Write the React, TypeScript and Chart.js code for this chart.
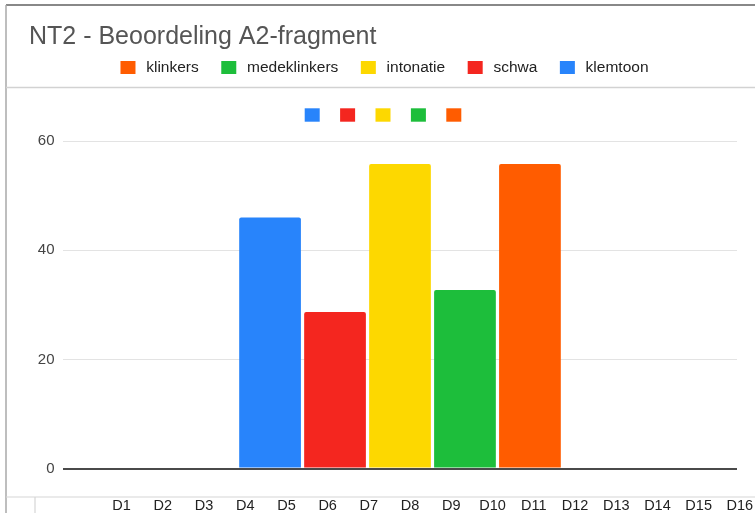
import { useEffect, useRef } from 'react';
import { Chart, registerables } from 'chart.js';

Chart.register(...registerables);

const FONT = "'Liberation Sans', Arial, Helvetica, sans-serif";

const chartTitle = 'NT2 - Beoordeling A2-fragment';
const categories = ['A2-fragment'];
const seriesNames = ['klemtoon', 'schwa', 'intonatie', 'medeklinkers', 'klinkers'];
const seriesValues = [46, 28.7, 55.8, 32.7, 55.8];
const seriesColors = ['#2884fb', '#f4261f', '#fdd800', '#1dbe3b', '#ff5c00'];
const legendOrder = ['klinkers', 'medeklinkers', 'intonatie', 'schwa', 'klemtoon'];
const dLabels = ['D1', 'D2', 'D3', 'D4', 'D5', 'D6', 'D7', 'D8', 'D9', 'D10', 'D11', 'D12', 'D13', 'D14', 'D15', 'D16'];
const yMin = 0;
const yMax = 60;
const yStep = 20;

const framePlugin = {
  id: 'frameDecor',
  afterDraw(chart: any) {
    const ctx = chart.ctx as CanvasRenderingContext2D;
    const w = chart.width;
    const h = chart.height;
    const line = (x1: number, y1: number, x2: number, y2: number, color: string, lw: number) => {
      ctx.beginPath();
      ctx.strokeStyle = color;
      ctx.lineWidth = lw;
      ctx.moveTo(x1, y1);
      ctx.lineTo(x2, y2);
      ctx.stroke();
    };
    ctx.save();
    line(6, 5, w, 5, '#606060', 1.5);
    line(6, 5, 6, h, '#a8a8a8', 1.5);
    line(6, 87.5, w, 87.5, '#d2d2d2', 1.5);
    line(6, 497, w, 497, '#d6d6d6', 1.2);
    line(35, 497, 35, h, '#d6d6d6', 1.2);

    // second (unlabelled) legend row of colour squares, in dataset order
    const ds = chart.data.datasets;
    const sq = 15;
    const sqH = 13.4;
    const gap = 20.4;
    const total = ds.length * sq + (ds.length - 1) * gap;
    const cx = (chart.legend.left + chart.legend.right) / 2;
    let x = cx - total / 2;
    const yc = chart.chartArea.top - 26;
    ds.forEach((d: any) => {
      ctx.fillStyle = d.backgroundColor;
      ctx.fillRect(x, yc - sqH / 2, sq, sqH);
      x += sq + gap;
    });
    ctx.restore();
  },
};

export default function App() {
  const ref = useRef<HTMLCanvasElement | null>(null);

  useEffect(() => {
    if (!ref.current) return;
    Chart.defaults.font.family = FONT;
    const chart = new Chart(ref.current, {
      type: 'bar',
      data: {
        labels: categories,
        datasets: seriesNames.map((name, i) => ({
          label: name,
          data: [seriesValues[i]],
          backgroundColor: seriesColors[i],
          borderWidth: 0,
          borderRadius: 2,
          categoryPercentage: 0.482,
          barPercentage: 0.95,
        })),
      },
      options: {
        responsive: false,
        animation: false,
        devicePixelRatio: 1,
        events: [],
        layout: { padding: { left: 29, right: 18, top: 0, bottom: 0 } },
        plugins: {
          tooltip: { enabled: false },
          title: {
            display: true,
            text: chartTitle,
            align: 'start',
            color: '#555555',
            font: { family: FONT, size: 25, weight: 'normal', lineHeight: 1.2 },
            padding: { top: 22, bottom: -13.5 },
          },
          subtitle: {
            display: true,
            text: '',
            weight: 500,
            font: { size: 10, lineHeight: 1 },
            padding: { top: 22, bottom: 22 },
          } as any,
          legend: {
            display: true,
            position: 'top',
            align: 'center',
            labels: {
              boxWidth: 21,
              boxHeight: 19,
              padding: 19.5,
              color: '#222222',
              font: { family: FONT, size: 15.5 },
              generateLabels: (c: any) =>
                legendOrder.map((name) => {
                  const i = c.data.datasets.findIndex((d: any) => d.label === name);
                  return {
                    text: name,
                    fillStyle: seriesColors[i],
                    strokeStyle: '#ffffff',
                    lineWidth: 6,
                    fontColor: '#222222',
                    hidden: false,
                    datasetIndex: i,
                  };
                }),
            },
          },
        },
        scales: {
          x: {
            type: 'category',
            display: false,
          },
          xD: {
            type: 'linear',
            position: 'bottom',
            bounds: 'data',
            offset: false,
            min: -0.42,
            max: 15.93,
            grid: { display: false, drawTicks: false, offset: false },
            border: { display: false },
            afterBuildTicks: (s: any) => {
              s.ticks = dLabels.map((_, i) => ({ value: i + 1 }));
            },
            afterFit: (s: any) => {
              s.height = 44.4;
              s.paddingLeft = 0;
              s.paddingRight = 0;
            },
            ticks: {
              autoSkip: false,
              includeBounds: false,
              maxRotation: 0,
              minRotation: 0,
              padding: 29,
              color: '#222222',
              font: { family: FONT, size: 14.5 },
              callback: (v: any) => dLabels[Math.round(Number(v)) - 1] ?? '',
            },
          },
          y: {
            min: yMin,
            max: yMax,
            ticks: {
              stepSize: yStep,
              padding: 8.5,
              color: '#444444',
              font: { family: FONT, size: 15 },
            },
            grid: {
              drawTicks: false,
              color: (c: any) => (c.tick && c.tick.value === 0 ? '#4a4a4a' : '#e3e3e3'),
              lineWidth: (c: any) => (c.tick && c.tick.value === 0 ? 2 : 1),
            },
            border: { display: false },
            afterFit: (s: any) => {
              s.width = 34;
            },
          },
        },
      } as any,
      plugins: [framePlugin],
    });
    return () => chart.destroy();
  }, []);

  return (
    <div style={{ position: 'absolute', left: 0, top: 0, width: 755, height: 513, background: '#ffffff' }}>
      <canvas ref={ref} width={755} height={513} style={{ display: 'block', width: 755, height: 513 }} />
    </div>
  );
}
